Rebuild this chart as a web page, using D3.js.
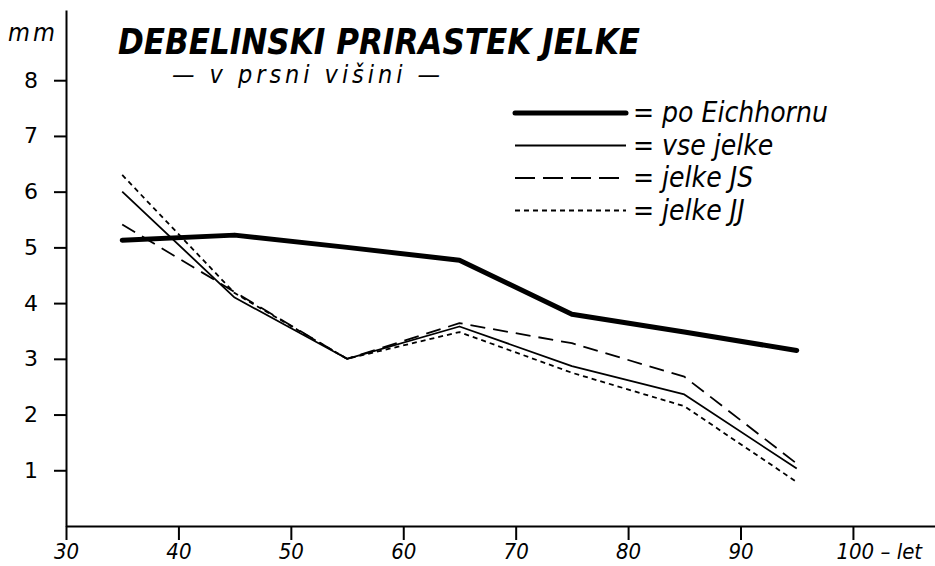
<!DOCTYPE html>
<html>
<head>
<meta charset="utf-8">
<script src="https://cdn.jsdelivr.net/npm/d3@7"></script>
<style>
    body { margin: 0; background: #fff; }
    svg text { fill: #000; }
</style>
</head>
<body>
<div id="viz"></div>
<script>
const width = 935;
const height = 566;

// starost (leta) in debelinski prirastek (mm)
const ages = [35, 45, 55, 65, 75, 85, 95];
const eichhorn = [5.13, 5.22, 5.0, 4.77, 3.8, 3.48, 3.15];
const vseJelke = [6.0, 4.1, 3.0, 3.58, 2.87, 2.36, 1.03];
const jelkeJS = [5.41, 4.2, 3.0, 3.64, 3.28, 2.68, 1.12];
const jelkeJJ = [6.3, 4.18, 3.0, 3.48, 2.75, 2.15, 0.79];

const xTicks = [30, 40, 50, 60, 70, 80, 90, 100];
const yTicks = [1, 2, 3, 4, 5, 6, 7, 8];

const seriesNames = ['po Eichhornu', 'vse jelke', 'jelke JS', 'jelke JJ'];

const styles = [
    { w: 5, dash: null },
    { w: 1.8, dash: null },
    { w: 1.8, dash: '15,8' },
    { w: 1.8, dash: '5,4' }
];
const series = [eichhorn, vseJelke, jelkeJS, jelkeJJ];

const font = "'DejaVu Sans Condensed', 'DejaVu Sans', sans-serif";

const svg = d3.select('#viz').append('svg')
    .attr('width', width)
    .attr('height', height)
    .style('font-family', font);

const x = d3.scaleLinear()
    .domain([30, 107.3])
    .range([66, 935]);

const y = d3.scaleLinear()
    .domain([0, 9.26])
    .range([526, 10]);

// osi
const xAxis = svg.append('g')
    .attr('transform', 'translate(0,' + y(0) + ')')
    .call(d3.axisBottom(x)
        .tickValues(xTicks)
        .tickSizeInner(14)
        .tickSizeOuter(0)
        .tickPadding(3)
        .tickFormat(d => d));

xAxis.selectAll('path, line').attr('stroke', '#000').attr('stroke-width', 2);
xAxis.selectAll('text')
    .style('font-family', font)
    .style('font-size', '22px')
    .style('font-style', 'oblique');

xAxis.selectAll('.tick').filter(d => d === 100).select('text')
    .attr('text-anchor', 'start')
    .attr('dx', '-17')
    .text('100 – let');

const yAxis = svg.append('g')
    .attr('transform', 'translate(' + x(30) + ',0)')
    .call(d3.axisLeft(y)
        .tickValues(yTicks)
        .tickSizeInner(12)
        .tickSizeOuter(0)
        .tickPadding(16));

yAxis.selectAll('path, line').attr('stroke', '#000').attr('stroke-width', 2);
yAxis.selectAll('text')
    .style('font-family', "'DejaVu Sans', sans-serif")
    .style('font-size', '22px');

svg.append('text')
    .attr('x', 8)
    .attr('y', 41)
    .attr('textLength', 47)
    .style('font-size', '25px')
    .style('font-style', 'oblique')
    .text('mm');

// naslov
svg.append('text')
    .attr('x', 118)
    .attr('y', 54)
    .attr('textLength', 522)
    .attr('lengthAdjust', 'spacingAndGlyphs')
    .style('font-size', '35px')
    .style('font-weight', 'bold')
    .style('font-style', 'oblique')
    .text('DEBELINSKI PRIRASTEK JELKE');

svg.append('text')
    .attr('x', 172)
    .attr('y', 83)
    .attr('textLength', 268)
    .attr('lengthAdjust', 'spacing')
    .style('font-size', '25px')
    .style('font-style', 'oblique')
    .text('— v prsni višini —');

// črte
const line = d3.line()
    .x((d, i) => x(ages[i]))
    .y(d => y(d));

svg.selectAll('.serie').data(series)
    .enter().append('path')
        .attr('class', 'serie')
        .attr('d', d => line(d))
        .attr('fill', 'none')
        .attr('stroke', '#000')
        .attr('stroke-width', (d, i) => styles[i].w)
        .attr('stroke-dasharray', (d, i) => styles[i].dash)
        .attr('stroke-linecap', (d, i) => i === 0 ? 'round' : 'butt')
        .attr('stroke-linejoin', 'round');

// legenda
const legend = svg.append('g')
    .attr('transform', 'translate(515,113)');

const rows = legend.selectAll('g').data(seriesNames)
    .enter().append('g')
        .attr('transform', (d, i) => 'translate(0,' + (i * 32.5) + ')');

rows.append('line')
    .attr('x1', 0)
    .attr('x2', 111)
    .attr('stroke', '#000')
    .attr('stroke-width', (d, i) => styles[i].w)
    .attr('stroke-linecap', (d, i) => i === 0 ? 'round' : 'butt')
    .attr('stroke-dasharray', (d, i) => i === 2 ? '20,8' : styles[i].dash);

rows.append('text')
    .attr('x', 118)
    .attr('y', 9)
    .style('font-size', '28px')
    .style('font-style', 'oblique')
    .text(d => '= ' + d);
</script>
</body>
</html>
